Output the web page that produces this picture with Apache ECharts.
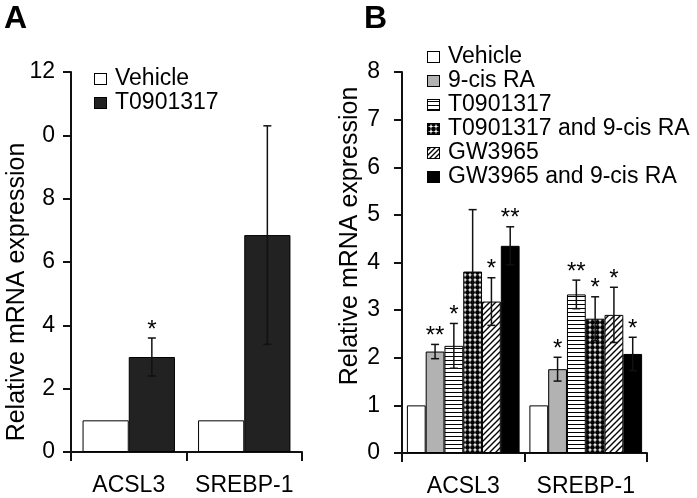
<!DOCTYPE html>
<html><head><meta charset="utf-8">
<script src="https://cdn.jsdelivr.net/npm/echarts@6/dist/echarts.min.js"></script>
<style>html,body{margin:0;padding:0;background:#fff}#c{width:697px;height:498px}</style>
</head><body><div id="c"></div>
<script>
// ---------- data ----------
var categories = ['ACSL3', 'SREBP-1'];

// Panel A
var namesA = ['Vehicle', 'T0901317'];
var vehicleA = [1, 1];
var t0901317A = [3.0, 6.85];
var vehicleErrA = [0, 0];
var t0901317ErrA = [0.6, 3.45];
var vehicleSigA = ['', ''];
var t0901317SigA = ['*', ''];
var yTickLabelsA = ['0', '2', '4', '6', '8', '0', '12'];

// Panel B
var namesB = ['Vehicle', '9-cis RA', 'T0901317', 'T0901317 and 9-cis RA', 'GW3965', 'GW3965 and 9-cis RA'];
var vehicleB = [1, 1];
var cisB = [2.13, 1.76];
var t09B = [2.25, 3.33];
var t09cisB = [3.81, 2.82];
var gwB = [3.18, 2.90];
var gwcisB = [4.35, 2.08];
var vehicleErrB = [0, 0];
var cisErrB = [0.15, 0.25];
var t09ErrB = [0.47, 0.30];
var t09cisErrB = [1.30, 0.46];
var gwErrB = [0.50, 0.58];
var gwcisErrB = [0.40, 0.35];
var vehicleSigB = ['', ''];
var cisSigB = ['**', '*'];
var t09SigB = ['*', '**'];
var t09cisSigB = ['', '*'];
var gwSigB = ['*', '*'];
var gwcisSigB = ['**', '*'];
var yTickLabelsB = ['0', '1', '2', '3', '4', '5', '6', '7', '8'];

// ---------- styles ----------
var FONT = 'Liberation Sans, Arial, sans-serif';
var INK = '#000';
function drawHLines(g, w, h) { g.lineWidth = 1; g.beginPath(); for (var y = 2.5; y < h; y += 4) { g.moveTo(0, y); g.lineTo(w, y); } g.stroke(); }
function drawDots(g, w, h) { for (var x = 1.5; x < w + 5; x += 5) for (var y = 1; y < h + 5; y += 5) { g.beginPath(); g.arc(x, y, 2.4, 0, Math.PI * 2); g.fill(); } }
function drawDiag(g, w, h) { g.lineWidth = 1.4; g.beginPath(); for (var k = -h - 6; k < w + h + 6; k += 5) { g.moveTo(k - 1, h + 1); g.lineTo(k + h + 1, -1); } g.stroke(); }
function pat(w, h, draw) {
  var c = document.createElement('canvas'); c.width = w; c.height = h;
  var g = c.getContext('2d'); g.fillStyle = '#fff'; g.fillRect(0, 0, w, h);
  g.strokeStyle = '#000'; g.fillStyle = '#000'; draw(g, w, h);
  return { image: c, repeat: 'repeat' };
}
var hLines = pat(4, 4, function (g) { g.lineWidth = 1; g.beginPath(); g.moveTo(0, 0.5); g.lineTo(4, 0.5); g.stroke(); });
var dots = pat(5, 5, function (g) { g.beginPath(); g.arc(2.5, 2.5, 2.4, 0, Math.PI * 2); g.fill(); });
var diag = pat(6, 6, function (g) {
  g.lineWidth = 1.4; g.beginPath();
  g.moveTo(-1, 7); g.lineTo(7, -1);
  g.moveTo(-1, 1); g.lineTo(1, -1);
  g.moveTo(5, 7); g.lineTo(7, 5);
  g.stroke();
});
var colorsA = ['#ffffff', '#222222'];
var colorsB = ['#ffffff', '#b2b2b2', hLines, dots, diag, '#000000'];
var iconDrawB = [null, null, drawHLines, drawDots, drawDiag, null];

function icon(fill, drawFn) {
  var w = 13, h = 12;
  var c = document.createElement('canvas'); c.width = w; c.height = h;
  var g = c.getContext('2d');
  g.fillStyle = typeof fill === 'string' ? fill : '#fff'; g.fillRect(0, 0, w, h);
  g.strokeStyle = '#000'; g.fillStyle = '#000';
  if (drawFn) drawFn(g, w, h);
  g.strokeStyle = '#000'; g.lineWidth = 1; g.strokeRect(0.5, 0.5, w - 1, h - 1);
  return 'image://' + c.toDataURL();
}

var chart = echarts.init(document.getElementById('c'), null, { renderer: 'canvas' });

function errSeries(name, xi, yi, vals, errs, sigs, idx, n, gap) {
  return {
    type: 'custom', name: name, xAxisIndex: xi, yAxisIndex: yi, z: 5, silent: true,
    data: vals.map(function (v, i) { return [i, v, errs[i]]; }),
    renderItem: function (params, api) {
      var cat = api.value(0), v = api.value(1), e = api.value(2);
      var catW = api.size([1, 0])[0];
      var c = api.coord([cat, v]);
      var total = catW * (1 - gap);
      var x = c[0] - total / 2 + (idx + 0.5) * total / n;
      var children = [];
      var topY = c[1];
      if (e > 0) {
        var t = api.coord([cat, v + e])[1], b = api.coord([cat, v - e])[1];
        var cap = 4;
        var st = { stroke: '#111', lineWidth: 1.5 };
        children.push({ type: 'line', shape: { x1: x, y1: t, x2: x, y2: b }, style: st });
        children.push({ type: 'line', shape: { x1: x - cap, y1: t, x2: x + cap, y2: t }, style: st });
        children.push({ type: 'line', shape: { x1: x - cap, y1: b, x2: x + cap, y2: b }, style: st });
        topY = t;
      }
      var s = sigs[params.dataIndex];
      if (s) {
        children.push({ type: 'text', x: x, y: topY - 8, style: { text: s, font: '24px ' + FONT, fill: INK, align: 'center', verticalAlign: 'middle' } });
      }
      return { type: 'group', children: children };
    }
  };
}

var series = [];
var valsA = [vehicleA, t0901317A], errsA = [vehicleErrA, t0901317ErrA], sigsA = [vehicleSigA, t0901317SigA];
namesA.forEach(function (nm, i) {
  series.push({ type: 'bar', name: nm, xAxisIndex: 0, yAxisIndex: 0, data: valsA[i], barGap: 0, barCategoryGap: '20%',
    itemStyle: { color: colorsA[i], borderColor: '#000', borderWidth: 1 }, emphasis: { disabled: true } });
});
namesA.forEach(function (nm, i) { series.push(errSeries('errA' + i, 0, 0, valsA[i], errsA[i], sigsA[i], i, 2, 0.2)); });

var valsB = [vehicleB, cisB, t09B, t09cisB, gwB, gwcisB];
var errsB = [vehicleErrB, cisErrB, t09ErrB, t09cisErrB, gwErrB, gwcisErrB];
var sigsB = [vehicleSigB, cisSigB, t09SigB, t09cisSigB, gwSigB, gwcisSigB];
namesB.forEach(function (nm, i) {
  series.push({ type: 'bar', name: nm, xAxisIndex: 1, yAxisIndex: 1, data: valsB[i], barGap: 0, barCategoryGap: '8%',
    itemStyle: { color: colorsB[i], borderColor: '#000', borderWidth: 1 }, emphasis: { disabled: true } });
});
namesB.forEach(function (nm, i) { series.push(errSeries('errB' + i, 1, 1, valsB[i], errsB[i], sigsB[i], i, 6, 0.08)); });

function xAx(gi) {
  return { type: 'category', gridIndex: gi, data: categories,
    axisLine: { lineStyle: { color: '#111', width: 2 } },
    axisTick: { show: true, length: 9, lineStyle: { color: '#111', width: 2 } },
    axisLabel: { color: INK, fontSize: 23, fontFamily: FONT, margin: 22, interval: 0 } };
}
function yAx(gi, max, interval, labels, margin) {
  return { type: 'value', gridIndex: gi, min: 0, max: max, interval: interval,
    splitLine: { show: false },
    axisLine: { show: true, lineStyle: { color: '#111', width: 2 } },
    axisTick: { show: true, length: 8, lineStyle: { color: '#111', width: 2 } },
    axisLabel: { color: INK, fontSize: 23, fontFamily: FONT, margin: margin,
      formatter: function (v) { return labels[Math.round(v / interval)]; } } };
}

var legendText = { color: INK, fontSize: 23, fontFamily: FONT, lineHeight: 24, padding: [0, 0, 0, 3] };
var legendDataA = namesA.map(function (nm, i) { return { name: nm, icon: icon(colorsA[i], null) }; });
var legendDataB = namesB.map(function (nm, i) { return { name: nm, icon: icon(colorsB[i], iconDrawB[i]) }; });

chart.setOption({
  animation: false,
  backgroundColor: '#fff',
  grid: [
    { left: 71, top: 72, width: 231, height: 380 },
    { left: 402, top: 72, width: 245, height: 381 }
  ],
  xAxis: [xAx(0), xAx(1)],
  yAxis: [yAx(0, 12, 2, yTickLabelsA, 16), yAx(1, 8, 1, yTickLabelsB, 22)],
  legend: [
    { data: legendDataA, orient: 'vertical', left: 94, top: 67, itemWidth: 13, itemHeight: 12, itemGap: 0, padding: 0,
      textStyle: legendText, selectedMode: false },
    { data: legendDataB, orient: 'vertical', left: 427, top: 45, itemWidth: 13, itemHeight: 12, itemGap: 0, padding: 0,
      textStyle: legendText, selectedMode: false }
  ],
  graphic: [
    { type: 'text', left: 4, top: 3, style: { text: 'A', font: 'bold 32px ' + FONT, fill: '#000' } },
    { type: 'text', left: 364, top: 3, style: { text: 'B', font: 'bold 32px ' + FONT, fill: '#000' } },
    { type: 'text', x: 17, y: 292, rotation: Math.PI / 2, style: { text: 'Relative mRNA expression', font: '25px ' + FONT, fill: INK, align: 'center', verticalAlign: 'middle' } },
    { type: 'text', x: 350, y: 236, rotation: Math.PI / 2, style: { text: 'Relative mRNA expression', font: '25px ' + FONT, fill: INK, align: 'center', verticalAlign: 'middle' } }
  ],
  series: series
});
</script></body></html>
